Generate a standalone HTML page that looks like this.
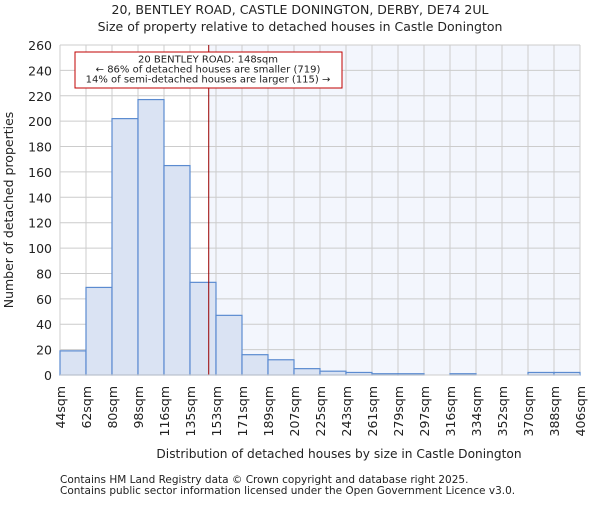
<!DOCTYPE html>
<html><head><meta charset="utf-8"><style>
body{margin:0;background:#fff;font-family:"Liberation Sans","DejaVu Sans",sans-serif}
svg text{font-family:"DejaVu Sans","Liberation Sans",sans-serif;fill:#222}
</style></head><body>
<svg id="chart" width="600" height="500">
<text x="300" y="14" font-size="12.5" text-anchor="middle">20, BENTLEY ROAD, CASTLE DONINGTON, DERBY, DE74 2UL</text>
<text x="300" y="31" font-size="12.5" text-anchor="middle">Size of property relative to detached houses in Castle Donington</text>
<g id="plot"></g>
<text x="339" y="458" font-size="12.2" text-anchor="middle">Distribution of detached houses by size in Castle Donington</text>
<text transform="translate(13,210) rotate(-90)" font-size="12.5" text-anchor="middle">Number of detached properties</text>
<text x="60" y="483" font-size="10.5" fill="#444">Contains HM Land Registry data © Crown copyright and database right 2025.</text>
<text x="60" y="494" font-size="10.5" fill="#444">Contains public sector information licensed under the Open Government Licence v3.0.</text>
</svg>
<script>
const binLabels=["44sqm","62sqm","80sqm","98sqm","116sqm","135sqm","153sqm","171sqm","189sqm","207sqm","225sqm","243sqm","261sqm","279sqm","297sqm","316sqm","334sqm","352sqm","370sqm","388sqm","406sqm"];
const counts=[19,69,202,217,165,73,47,16,12,5,3,2,1,1,0,1,0,0,2,2];
const yTicks=[0,20,40,60,80,100,120,140,160,180,200,220,240,260];
const propertyBinPos=[5.72];
const NS="http://www.w3.org/2000/svg";
const L=60,R=580,T=45,B=375,yMax=260;
const n=counts.length,bw=(R-L)/n;
const xs=i=>L+i*bw;
const ys=v=>B-v/yMax*(B-T);
const g=document.getElementById('plot');
function mk(t,a){const e=document.createElementNS(NS,t);for(const k in a)e.setAttribute(k,a[k]);g.appendChild(e);return e;}
const px=xs(propertyBinPos[0]);
let e=mk('rect',{x:px,y:T,width:R-px,height:B-T,fill:'#f3f6fd'});


for(let i=0;i<=n;i++){e=mk('line',{x1:xs(i),x2:xs(i),y1:T,y2:B,stroke:'#cccccc'});

}
yTicks.forEach(v=>{e=mk('line',{x1:L,x2:R,y1:ys(v),y2:ys(v),stroke:'#cccccc'});


const t=mk('text',{x:L-8,y:ys(v)+5,'font-size':12.5,'text-anchor':'end'});t.textContent=v;

});
counts.forEach((c,i)=>{e=mk('rect',{x:xs(i),y:ys(c),width:bw,height:B-ys(c),fill:'#dae3f3',stroke:'#5b8bd0','stroke-width':1.2});

});
binLabels.forEach((l,i)=>{const t=mk('text',{transform:`translate(${xs(i)+5},386) rotate(-90)`,'font-size':12.5,'text-anchor':'end'});t.textContent=l;

});
e=mk('line',{x1:px,x2:px,y1:T,y2:B,stroke:'#990000','stroke-width':1});


e=mk('rect',{x:75,y:52,width:267,height:36,fill:'#fff',stroke:'#c00000','stroke-width':1});


["20 BENTLEY ROAD: 148sqm","← 86% of detached houses are smaller (719)","14% of semi-detached houses are larger (115) →"].forEach((s,i)=>{const t=mk('text',{x:208,y:62.5+i*10,'font-size':10,'text-anchor':'middle'});t.textContent=s;

});
e=mk('line',{x1:L,x2:R,y1:B,y2:B,stroke:'#cccccc'});


</script>
</body></html>
